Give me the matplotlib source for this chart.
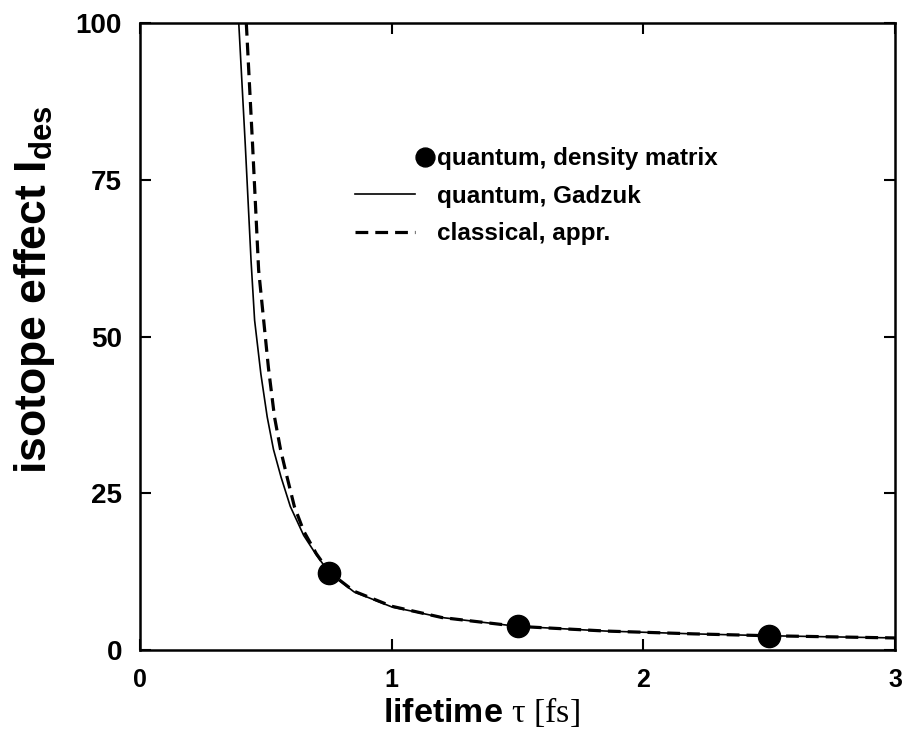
import numpy as np
import matplotlib
matplotlib.use("Agg")
import matplotlib.pyplot as plt
from matplotlib.legend_handler import HandlerLine2D

plt.rcParams['font.family'] = ['Liberation Sans', 'DejaVu Sans']
plt.rcParams['mathtext.fontset'] = 'custom'
plt.rcParams['mathtext.rm'] = 'Liberation Serif'
plt.rcParams['mathtext.it'] = 'Liberation Serif:italic'
plt.rcParams['mathtext.sf'] = 'Liberation Sans:bold'
plt.rcParams['mathtext.bf'] = 'Liberation Sans:bold'

tau_gadzuk = [0.392, 0.418, 0.441, 0.455, 0.48, 0.505, 0.53, 0.56, 0.597, 0.65, 0.70,
              0.753, 0.85, 1.0, 1.2, 1.5, 1.85, 2.2, 2.5, 3.0]
ides_gadzuk = [100, 80.5, 62.0, 52.6, 44.0, 37.2, 32.0, 27.6, 22.9, 18.3, 15.2,
               12.3, 9.3, 6.9, 5.2, 3.8, 3.05, 2.6, 2.3, 1.95]

tau_class = [0.422, 0.447, 0.471, 0.491, 0.51, 0.534, 0.558, 0.584, 0.613, 0.65, 0.70,
             0.753, 0.85, 1.0, 1.2, 1.5, 1.85, 2.2, 2.5, 3.0]
ides_class = [100, 80.5, 60.6, 52.6, 45.0, 37.2, 32.0, 27.6, 22.9, 19.0, 15.4,
              12.4, 9.4, 7.0, 5.2, 3.8, 3.05, 2.6, 2.3, 1.95]

tau_dm = [0.75, 1.5, 2.5]
ides_dm = [12.3, 3.9, 2.3]


class RightMarker(HandlerLine2D):
    # single marker just right of the handle, next to the text
    def get_xdata(self, legend, xdescent, ydescent, width, height, fontsize):
        m = -xdescent + width + 0.4 * fontsize
        return np.array([m - 0.5, m + 0.5]), np.array([m])


fig = plt.figure(figsize=(9.04, 7.38), dpi=100)
ax = fig.add_axes([0.155, 0.119, 0.835, 0.850])

dm, = ax.plot(tau_dm, ides_dm, 'o', color='black', ms=16, zorder=5,
              label='quantum, density matrix')
gz, = ax.plot(tau_gadzuk, ides_gadzuk, '-', color='black', lw=1.2,
              label='quantum, Gadzuk')
cl, = ax.plot(tau_class, ides_class, '--', color='black', lw=2.3, dashes=(4, 2.2),
              label='classical, appr.')

ax.set_xlim(0, 3)
ax.set_ylim(0, 100)
ax.set_xticks([0, 1, 2, 3])
ax.set_yticks([0, 25, 50, 75, 100])
ax.tick_params(direction='in', top=True, right=True, length=8, width=1.5, pad=13)
ax.tick_params(axis='x', labelsize=18)
ax.tick_params(axis='y', labelsize=20)
for lab in ax.get_xticklabels() + ax.get_yticklabels():
    lab.set_fontweight('bold')
for s in ax.spines.values():
    s.set_linewidth(1.8)

ax.set_xlabel(r'lifetime $\mathrm{\tau\ [fs]}$', fontsize=24.5, fontweight='bold')
ax.xaxis.set_label_coords(0.452, -0.072)
ax.set_ylabel(r'isotope effect I$_{\mathsf{des}}$', fontsize=32, fontweight='bold')
ax.yaxis.set_label_coords(-0.110, 0.574)

leg = ax.legend(handles=[dm, gz, cl], loc='upper left', bbox_to_anchor=(0.269, 0.821),
                frameon=False, prop={'size': 17.5, 'weight': 'bold'},
                handlelength=2.47, handletextpad=0.9,
                labelspacing=0.6, borderpad=0, markerscale=0.85,
                handler_map={dm: RightMarker(numpoints=1)})

fig.savefig('out.png', dpi=100)
